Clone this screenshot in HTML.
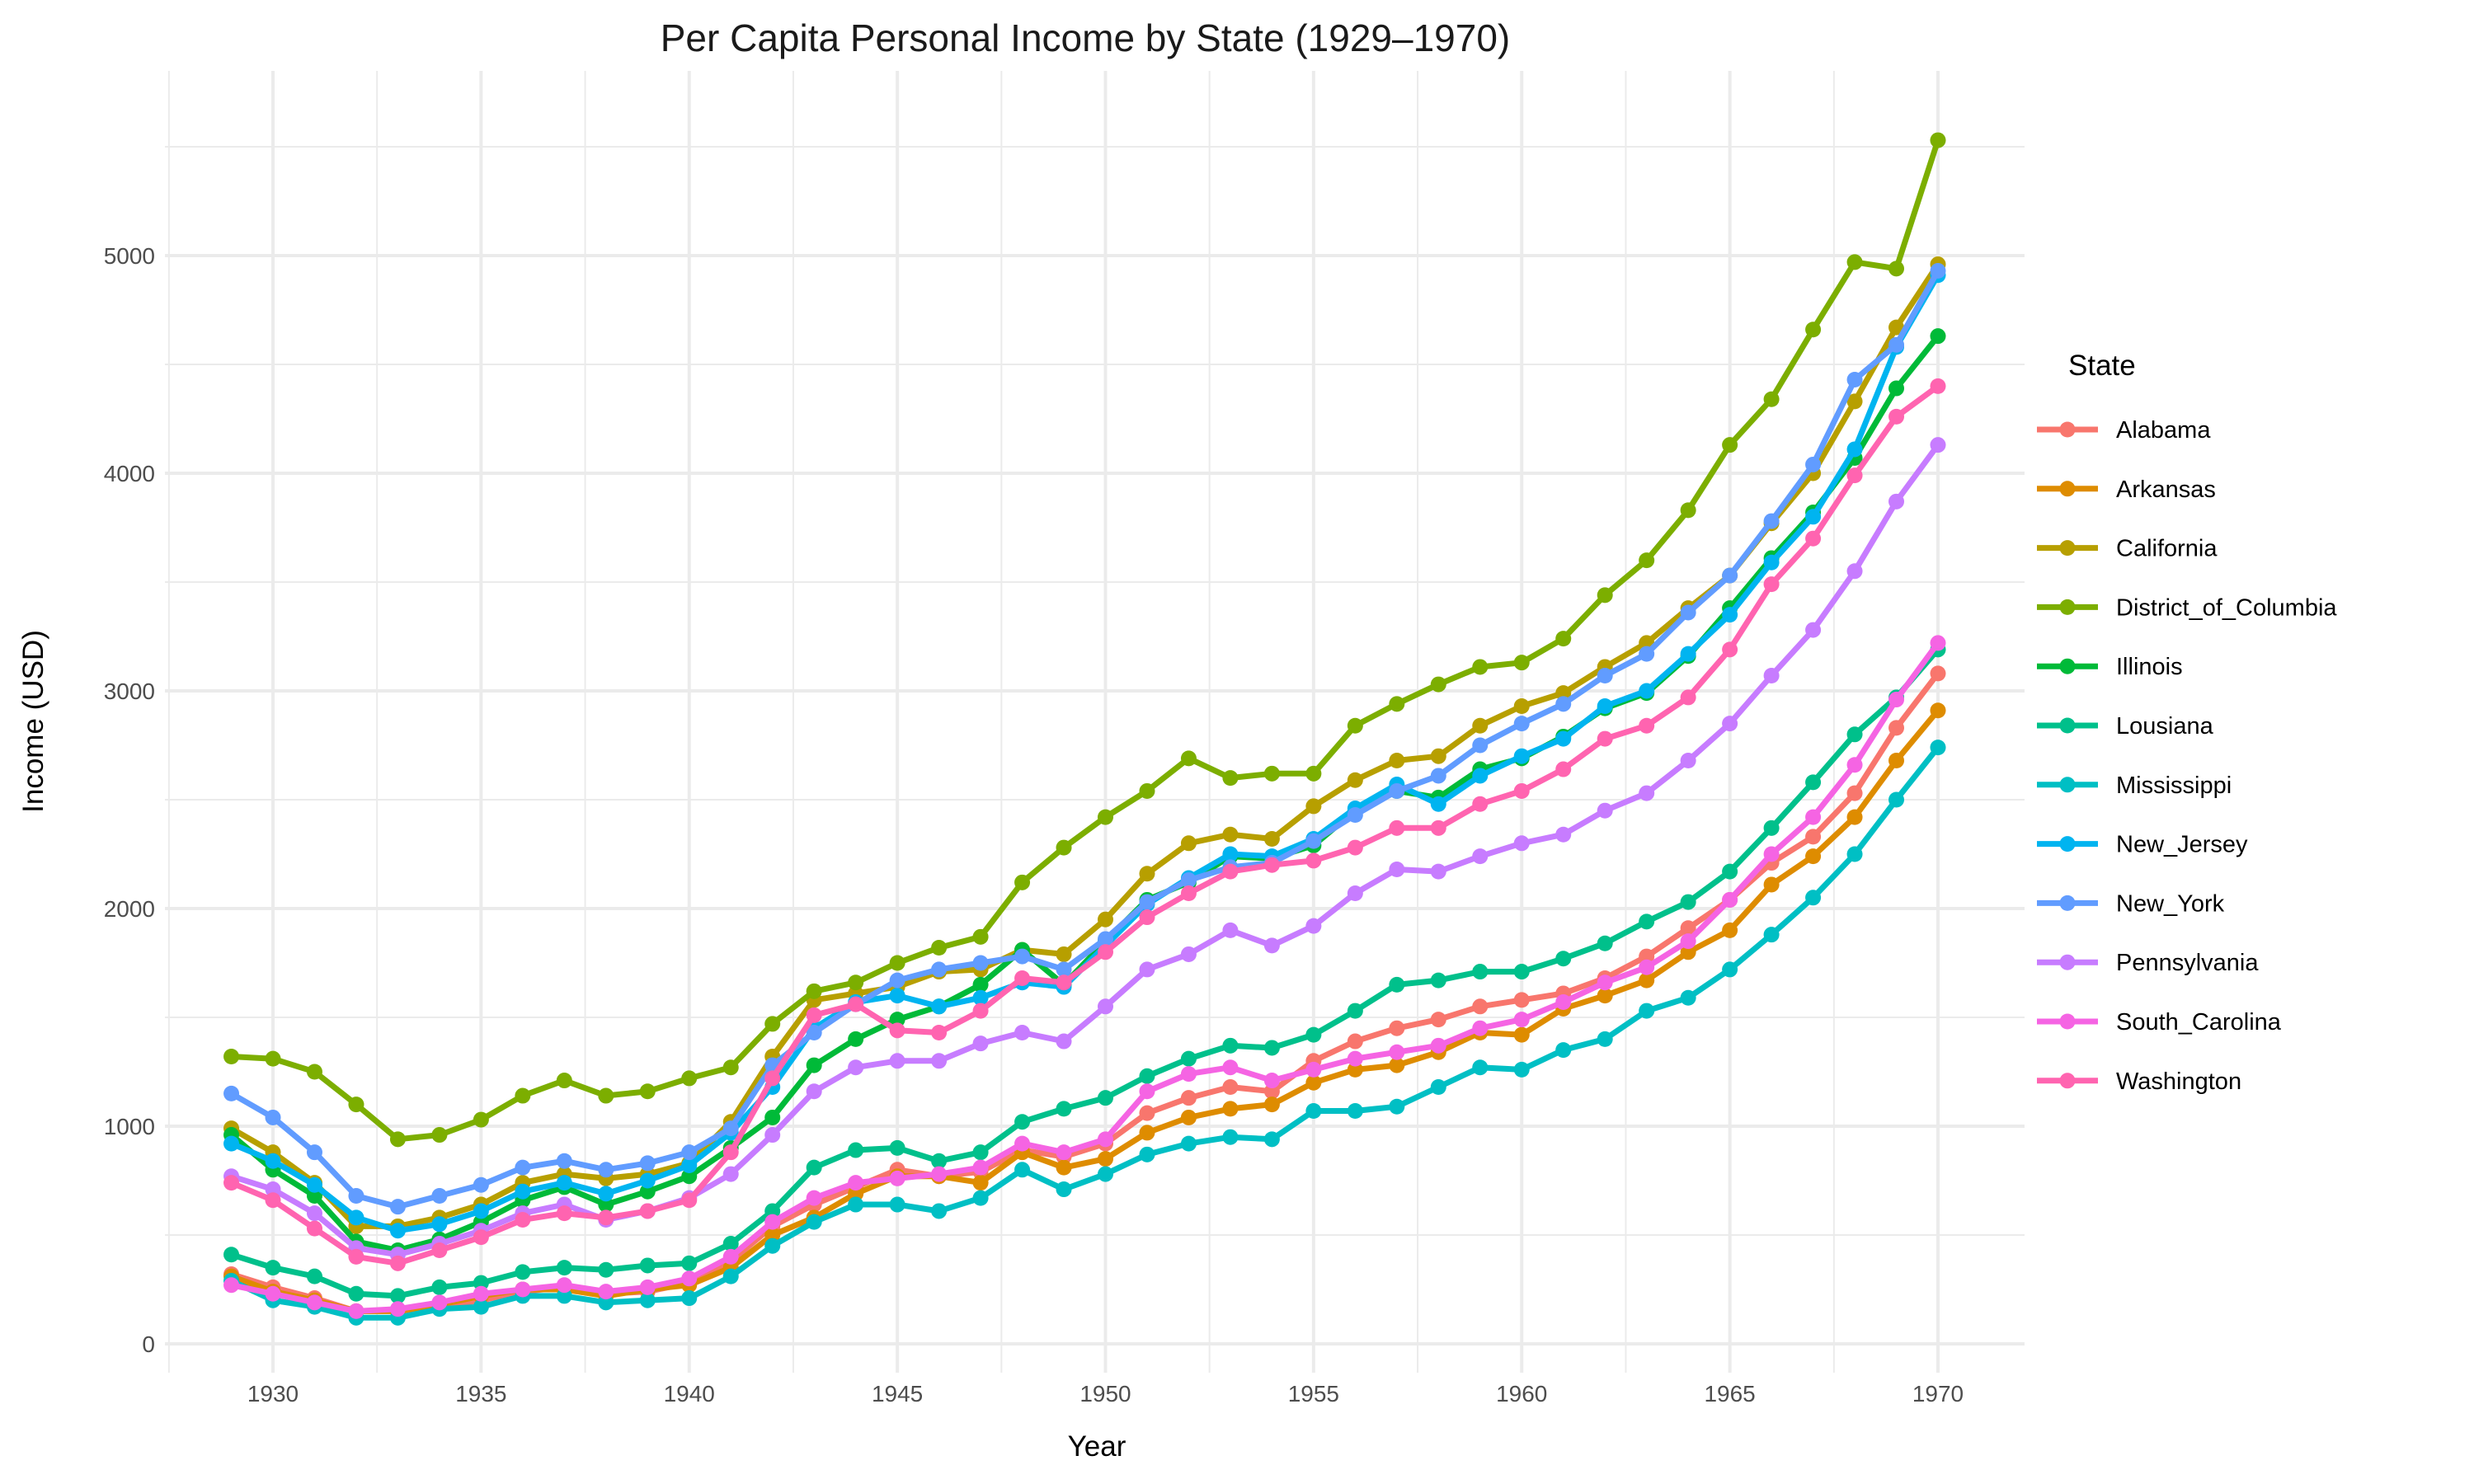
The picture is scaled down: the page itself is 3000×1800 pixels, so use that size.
<!DOCTYPE html>
<html><head><meta charset="utf-8"><style>
html,body{margin:0;padding:0;background:#fff;}
svg{display:block;font-family:"Liberation Sans",Arial,sans-serif;}
</style></head><body>
<svg id="chart" width="3000" height="1800" viewBox="0 0 3000 1800" xmlns="http://www.w3.org/2000/svg">
<rect width="3000" height="1800" fill="#fff"/>
<text x="1316" y="62" font-size="46" text-anchor="middle" fill="#1a1a1a">Per Capita Personal Income by State (1929–1970)</text>
<g id="grid"></g><g id="axes"></g><g id="series"></g><g id="legend"></g>
<text x="1330" y="1766" font-size="35" text-anchor="middle" fill="#000">Year</text>
<text transform="translate(52,875) rotate(-90)" font-size="35" text-anchor="middle" fill="#000">Income (USD)</text>
</svg>
<script>
const states = ["Alabama","Arkansas","California","District_of_Columbia","Illinois","Lousiana","Mississippi","New_Jersey","New_York","Pennsylvania","South_Carolina","Washington"];
const colors = ["#F8766D","#DE8C00","#B79F00","#7CAE00","#00BA38","#00C08B","#00BFC4","#00B4F0","#619CFF","#C77CFF","#F564E3","#FF64B0"];
const yearStart = 1929;
const xTicks = [1930,1935,1940,1945,1950,1955,1960,1965,1970];
const yTicks = [0,1000,2000,3000,4000,5000];
const Alabama = [320,260,210,150,150,170,200,240,260,230,240,280,380,540,640,720,800,770,790,890,860,920,1060,1130,1180,1160,1300,1390,1450,1490,1550,1580,1610,1680,1780,1910,2040,2210,2330,2530,2830,3080];
const Arkansas = [310,240,200,150,150,180,220,250,250,220,250,270,350,500,580,690,770,770,740,880,810,850,970,1040,1080,1100,1200,1260,1280,1340,1430,1420,1540,1600,1670,1800,1900,2110,2240,2420,2680,2910];
const California = [990,880,740,540,540,580,640,740,780,760,780,830,1020,1320,1580,1610,1640,1710,1720,1810,1790,1950,2160,2300,2340,2320,2470,2590,2680,2700,2840,2930,2990,3110,3220,3380,3530,3770,4000,4330,4670,4960];
const District_of_Columbia = [1320,1310,1250,1100,940,960,1030,1140,1210,1140,1160,1220,1270,1470,1620,1660,1750,1820,1870,2120,2280,2420,2540,2690,2600,2620,2620,2840,2940,3030,3110,3130,3240,3440,3600,3830,4130,4340,4660,4970,4940,5530];
const Illinois = [960,800,680,470,430,480,560,660,720,640,700,770,900,1040,1280,1400,1490,1550,1650,1810,1650,1850,2040,2120,2240,2230,2290,2450,2540,2510,2640,2690,2790,2920,2990,3160,3380,3610,3820,4070,4390,4630];
const Lousiana = [410,350,310,230,220,260,280,330,350,340,360,370,460,610,810,890,900,840,880,1020,1080,1130,1230,1310,1370,1360,1420,1530,1650,1670,1710,1710,1770,1840,1940,2030,2170,2370,2580,2800,2970,3190];
const Mississippi = [290,200,170,120,120,160,170,220,220,190,200,210,310,450,560,640,640,610,670,800,710,780,870,920,950,940,1070,1070,1090,1180,1270,1260,1350,1400,1530,1590,1720,1880,2050,2250,2500,2740];
const New_Jersey = [920,840,730,580,520,550,610,700,740,690,750,820,970,1180,1450,1570,1600,1550,1590,1660,1640,1830,2020,2140,2250,2240,2320,2460,2570,2480,2610,2700,2780,2930,3000,3170,3350,3590,3800,4110,4580,4910];
const New_York = [1150,1040,880,680,630,680,730,810,840,800,830,880,990,1280,1430,1560,1670,1720,1750,1780,1720,1860,2030,2130,2190,2210,2310,2430,2540,2610,2750,2850,2940,3070,3170,3360,3530,3780,4040,4430,4590,4930];
const Pennsylvania = [770,710,600,440,410,460,520,600,640,570,610,670,780,960,1160,1270,1300,1300,1380,1430,1390,1550,1720,1790,1900,1830,1920,2070,2180,2170,2240,2300,2340,2450,2530,2680,2850,3070,3280,3550,3870,4130];
const South_Carolina = [270,230,190,150,160,190,230,250,270,240,260,300,400,560,670,740,760,780,810,920,880,940,1160,1240,1270,1210,1260,1310,1340,1370,1450,1490,1570,1660,1730,1850,2040,2250,2420,2660,2960,3220];
const Washington = [740,660,530,400,370,430,490,570,600,580,610,660,880,1220,1510,1560,1440,1430,1530,1680,1660,1800,1960,2070,2170,2200,2220,2280,2370,2370,2480,2540,2640,2780,2840,2970,3190,3490,3700,3990,4260,4400];
const seriesValues = [Alabama,Arkansas,California,District_of_Columbia,Illinois,Lousiana,Mississippi,New_Jersey,New_York,Pennsylvania,South_Carolina,Washington];

const NS="http://www.w3.org/2000/svg";
const P={l:200,r:2455,t:86,b:1665};
function xs(yr){return 331+(yr-1930)*(2350-331)/40;}
function ys(v){return 1630-v*(1630-310)/5000;}
function mk(tag,attrs,parent){const e=document.createElementNS(NS,tag);for(const k in attrs)e.setAttribute(k,attrs[k]);parent.appendChild(e);return e;}
const grid=document.getElementById('grid'),axes=document.getElementById('axes'),ser=document.getElementById('series'),leg=document.getElementById('legend');
for(let y=500;y<5600;y+=1000){const yy=ys(y);if(yy<P.t)continue;const l=mk('line',{x1:P.l,x2:P.r,y1:yy,y2:yy,stroke:'#ebebeb','stroke-width':2},grid);

}
for(let x=1927.5;x<1973;x+=5){const xx=xs(x);if(xx<P.l||xx>P.r)continue;const l=mk('line',{x1:xx,x2:xx,y1:P.t,y2:P.b,stroke:'#ebebeb','stroke-width':2},grid);

}
yTicks.forEach(v=>{const yy=ys(v);const l=mk('line',{x1:P.l,x2:P.r,y1:yy,y2:yy,stroke:'#ebebeb','stroke-width':4},grid);


const t=mk('text',{x:188,y:yy+10,'font-size':28,'text-anchor':'end',fill:'#4d4d4d'},axes);t.textContent=v;

});
xTicks.forEach(v=>{const xx=xs(v);const l=mk('line',{x1:xx,x2:xx,y1:P.t,y2:P.b,stroke:'#ebebeb','stroke-width':4},grid);


const t=mk('text',{x:xx,y:1700,'font-size':28,'text-anchor':'middle',fill:'#4d4d4d'},axes);t.textContent=v;

});
seriesValues.forEach((vals,i)=>{
  const g=mk('g',{},ser);
  
  
  const pts=vals.map((v,j)=>xs(yearStart+j).toFixed(1)+','+ys(v).toFixed(1)).join(' ');
  const pl=mk('polyline',{points:pts,fill:'none',stroke:colors[i],'stroke-width':7,'stroke-linejoin':'round'},g);
  
  
  vals.forEach((v,j)=>{const c=mk('circle',{cx:xs(yearStart+j),cy:ys(v),r:9.5,fill:colors[i]},g);
  
  });
});
const lt=mk('text',{x:2508,y:455,'font-size':35,fill:'#000'},leg);lt.textContent='State';


states.forEach((s,i)=>{const y=521+i*71.8;const g=mk('g',{},leg);


mk('line',{x1:2470,x2:2544,y1:y,y2:y,stroke:colors[i],'stroke-width':7},g);
mk('circle',{cx:2507,cy:y,r:9.5,fill:colors[i]},g);
const t=mk('text',{x:2566,y:y+10,'font-size':29,fill:'#000'},g);t.textContent=s;

});
</script>
</body></html>
